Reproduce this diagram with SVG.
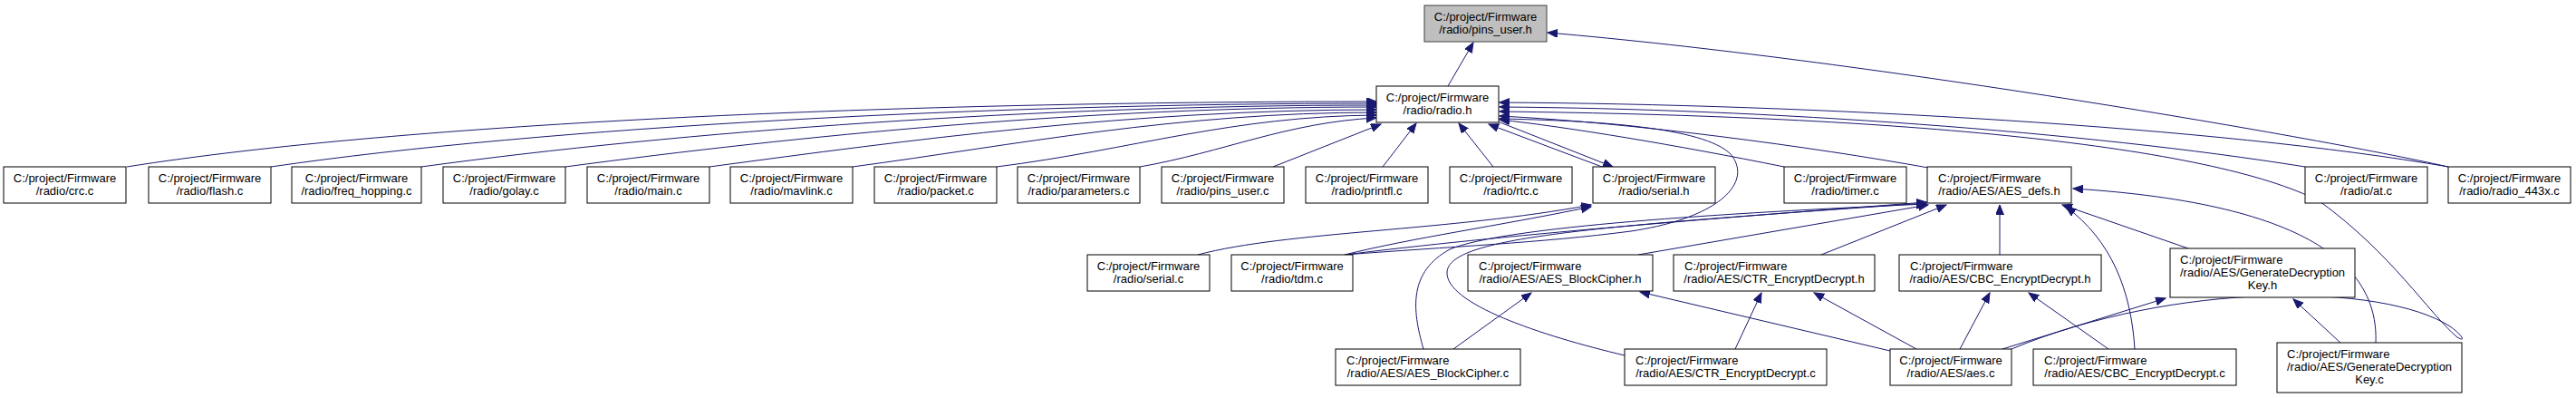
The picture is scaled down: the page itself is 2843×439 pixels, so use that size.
<svg xmlns="http://www.w3.org/2000/svg" width="2843" height="439" viewBox="0 0 2843 439">
<style>
.n rect{fill:#fff;stroke:#000;stroke-width:1}
.root rect{fill:#bfbfbf;stroke:#404040;stroke-width:1}
text{font-family:"Liberation Sans",Arial,sans-serif;font-size:13px;fill:#000}
.c{text-anchor:middle}
.l{text-anchor:start}
#edges path{fill:none;stroke:#191970;stroke-width:1;marker-end:url(#a)}
</style>
<defs>
<marker id="a" markerWidth="12" markerHeight="10" refX="11" refY="4.5" orient="auto" markerUnits="userSpaceOnUse"><path d="M0,0 L11,4.5 L0,9 Z" fill="#191970" stroke="#191970" stroke-width="1"/></marker>
</defs>
<rect width="2843" height="439" fill="#fff"/>
<g id="edges">
<path d="M1598,95 L1626,47"/>
<path d="M2702,184 C2550,150 2050,65 1708,36"/>
<path d="M140,184 C450,135 1000,112 1519,112"/>
<path d="M299,184 C600,140 1100,114 1519,114"/>
<path d="M465,184 C750,145 1150,116 1519,116"/>
<path d="M624,184 C880,150 1200,118 1519,118"/>
<path d="M783,184 C1000,155 1250,121 1519,121"/>
<path d="M941,184 C1120,160 1300,124 1519,124"/>
<path d="M1100,184 C1250,165 1360,128 1519,127"/>
<path d="M1258,184 C1350,168 1420,135 1519,130"/>
<path d="M1405,184 L1524,137"/>
<path d="M1526,184 L1563,136"/>
<path d="M1648,184 L1610,136"/>
<path d="M1768,184 L1643,137"/>
<path d="M1653,134 L1780,184"/>
<path d="M1969,184 C1850,160 1730,140 1655,132"/>
<path d="M2128,185 C2000,162 1800,135 1655,128"/>
<path d="M2544,184 C2300,145 1950,120 1655,118"/>
<path d="M2702,184 C2450,140 2000,115 1655,113"/>
<path d="M2220,385 C2400,310 2630,312 2704,360 C2718,370 2722,378 2712,372 C2680,345 2640,280 2560,222 C2440,160 2100,128 1655,123"/>
<path d="M1484,281 C1600,272 1700,268 1800,255 C1900,240 1935,200 1910,170 C1880,140 1760,133 1655,131"/>
<path d="M1322,281 C1420,255 1600,255 1756,226"/>
<path d="M1484,281 C1560,262 1650,250 1756,228"/>
<path d="M1484,281 C1650,260 1900,240 2126,223"/>
<path d="M1808,281 L2128,226"/>
<path d="M2010,281 L2148,226"/>
<path d="M2207,281 L2207,226"/>
<path d="M2415,274 L2276,226"/>
<path d="M2356,385 C2352,320 2330,265 2280,228"/>
<path d="M2622,378 C2625,300 2560,225 2288,208"/>
<path d="M1571,385 C1558,340 1555,300 1600,275 C1660,250 1900,235 2126,225"/>
<path d="M1793,392 C1700,370 1595,335 1597,300 C1600,262 1750,250 2126,224"/>
<path d="M1604,385 L1690,323"/>
<path d="M2086,387 L1810,322"/>
<path d="M1915,385 L1944,323"/>
<path d="M2115,385 L2002,323"/>
<path d="M2163,385 L2196,323"/>
<path d="M2327,385 L2239,323"/>
<path d="M2210,385 L2390,329"/>
<path d="M2583,378 L2531,330"/>
</g>
<g id="pins_user_h" class="root"><rect x="1572" y="6" width="135" height="40"/><text class="c" x="1639.5" y="22.5">C:/project/Firmware</text><text class="c" x="1639.5" y="36.5">/radio/pins_user.h</text></g>
<g id="radio_h" class="n"><rect x="1519" y="95" width="135" height="40"/><text class="c" x="1586.5" y="111.5">C:/project/Firmware</text><text class="c" x="1586.5" y="125.5">/radio/radio.h</text></g>
<g id="crc_c" class="n"><rect x="4" y="184" width="135" height="40"/><text class="c" x="71.5" y="200.5">C:/project/Firmware</text><text class="c" x="71.5" y="214.5">/radio/crc.c</text></g>
<g id="flash_c" class="n"><rect x="164" y="184" width="135" height="40"/><text class="c" x="231.5" y="200.5">C:/project/Firmware</text><text class="c" x="231.5" y="214.5">/radio/flash.c</text></g>
<g id="freq_hopping_c" class="n"><rect x="322" y="184" width="143" height="40"/><text class="c" x="393.5" y="200.5">C:/project/Firmware</text><text class="c" x="393.5" y="214.5">/radio/freq_hopping.c</text></g>
<g id="golay_c" class="n"><rect x="489" y="184" width="135" height="40"/><text class="c" x="556.5" y="200.5">C:/project/Firmware</text><text class="c" x="556.5" y="214.5">/radio/golay.c</text></g>
<g id="main_c" class="n"><rect x="648" y="184" width="135" height="40"/><text class="c" x="715.5" y="200.5">C:/project/Firmware</text><text class="c" x="715.5" y="214.5">/radio/main.c</text></g>
<g id="mavlink_c" class="n"><rect x="806" y="184" width="135" height="40"/><text class="c" x="873.5" y="200.5">C:/project/Firmware</text><text class="c" x="873.5" y="214.5">/radio/mavlink.c</text></g>
<g id="packet_c" class="n"><rect x="965" y="184" width="135" height="40"/><text class="c" x="1032.5" y="200.5">C:/project/Firmware</text><text class="c" x="1032.5" y="214.5">/radio/packet.c</text></g>
<g id="parameters_c" class="n"><rect x="1123" y="184" width="135" height="40"/><text class="c" x="1190.5" y="200.5">C:/project/Firmware</text><text class="c" x="1190.5" y="214.5">/radio/parameters.c</text></g>
<g id="pins_user_c" class="n"><rect x="1282" y="184" width="135" height="40"/><text class="c" x="1349.5" y="200.5">C:/project/Firmware</text><text class="c" x="1349.5" y="214.5">/radio/pins_user.c</text></g>
<g id="printfl_c" class="n"><rect x="1441" y="184" width="135" height="40"/><text class="c" x="1508.5" y="200.5">C:/project/Firmware</text><text class="c" x="1508.5" y="214.5">/radio/printfl.c</text></g>
<g id="rtc_c" class="n"><rect x="1600" y="184" width="135" height="40"/><text class="c" x="1667.5" y="200.5">C:/project/Firmware</text><text class="c" x="1667.5" y="214.5">/radio/rtc.c</text></g>
<g id="serial_h" class="n"><rect x="1758" y="184" width="135" height="40"/><text class="c" x="1825.5" y="200.5">C:/project/Firmware</text><text class="c" x="1825.5" y="214.5">/radio/serial.h</text></g>
<g id="timer_c" class="n"><rect x="1969" y="184" width="135" height="40"/><text class="c" x="2036.5" y="200.5">C:/project/Firmware</text><text class="c" x="2036.5" y="214.5">/radio/timer.c</text></g>
<g id="AES_defs_h" class="n"><rect x="2127" y="184" width="159" height="40"/><text class="l" x="2139" y="200.5">C:/project/Firmware</text><text class="c" x="2206.5" y="214.5">/radio/AES/AES_defs.h</text></g>
<g id="at_c" class="n"><rect x="2544" y="184" width="135" height="40"/><text class="c" x="2611.5" y="200.5">C:/project/Firmware</text><text class="c" x="2611.5" y="214.5">/radio/at.c</text></g>
<g id="radio_443x_c" class="n"><rect x="2702" y="184" width="135" height="40"/><text class="c" x="2769.5" y="200.5">C:/project/Firmware</text><text class="c" x="2769.5" y="214.5">/radio/radio_443x.c</text></g>
<g id="serial_c" class="n"><rect x="1200" y="281" width="135" height="40"/><text class="c" x="1267.5" y="297.5">C:/project/Firmware</text><text class="c" x="1267.5" y="311.5">/radio/serial.c</text></g>
<g id="tdm_c" class="n"><rect x="1359" y="281" width="134" height="40"/><text class="c" x="1426" y="297.5">C:/project/Firmware</text><text class="c" x="1426" y="311.5">/radio/tdm.c</text></g>
<g id="AES_BlockCipher_h" class="n"><rect x="1620" y="281" width="204" height="40"/><text class="l" x="1632" y="297.5">C:/project/Firmware</text><text class="c" x="1722" y="311.5">/radio/AES/AES_BlockCipher.h</text></g>
<g id="CTR_EncryptDecrypt_h" class="n"><rect x="1847" y="281" width="222" height="40"/><text class="l" x="1859" y="297.5">C:/project/Firmware</text><text class="c" x="1958" y="311.5">/radio/AES/CTR_EncryptDecrypt.h</text></g>
<g id="CBC_EncryptDecrypt_h" class="n"><rect x="2096" y="281" width="223" height="40"/><text class="l" x="2108" y="297.5">C:/project/Firmware</text><text class="c" x="2207.5" y="311.5">/radio/AES/CBC_EncryptDecrypt.h</text></g>
<g id="GenerateDecryptionKey_h" class="n"><rect x="2395" y="274" width="204" height="54"/><text class="l" x="2406" y="290.5">C:/project/Firmware</text><text class="l" x="2406" y="304.5">/radio/AES/GenerateDecryption</text><text class="c" x="2497" y="318.5">Key.h</text></g>
<g id="AES_BlockCipher_c" class="n"><rect x="1474" y="385" width="204" height="40"/><text class="l" x="1486" y="401.5">C:/project/Firmware</text><text class="c" x="1576" y="415.5">/radio/AES/AES_BlockCipher.c</text></g>
<g id="CTR_EncryptDecrypt_c" class="n"><rect x="1793" y="385" width="223" height="40"/><text class="l" x="1805" y="401.5">C:/project/Firmware</text><text class="c" x="1904.5" y="415.5">/radio/AES/CTR_EncryptDecrypt.c</text></g>
<g id="aes_c" class="n"><rect x="2086" y="385" width="134" height="40"/><text class="c" x="2153" y="401.5">C:/project/Firmware</text><text class="c" x="2153" y="415.5">/radio/AES/aes.c</text></g>
<g id="CBC_EncryptDecrypt_c" class="n"><rect x="2244" y="385" width="224" height="40"/><text class="l" x="2256" y="401.5">C:/project/Firmware</text><text class="c" x="2356" y="415.5">/radio/AES/CBC_EncryptDecrypt.c</text></g>
<g id="GenerateDecryptionKey_c" class="n"><rect x="2513" y="378" width="204" height="55"/><text class="l" x="2524" y="394.5">C:/project/Firmware</text><text class="l" x="2524" y="408.5">/radio/AES/GenerateDecryption</text><text class="c" x="2615" y="422.5">Key.c</text></g>
</svg>
